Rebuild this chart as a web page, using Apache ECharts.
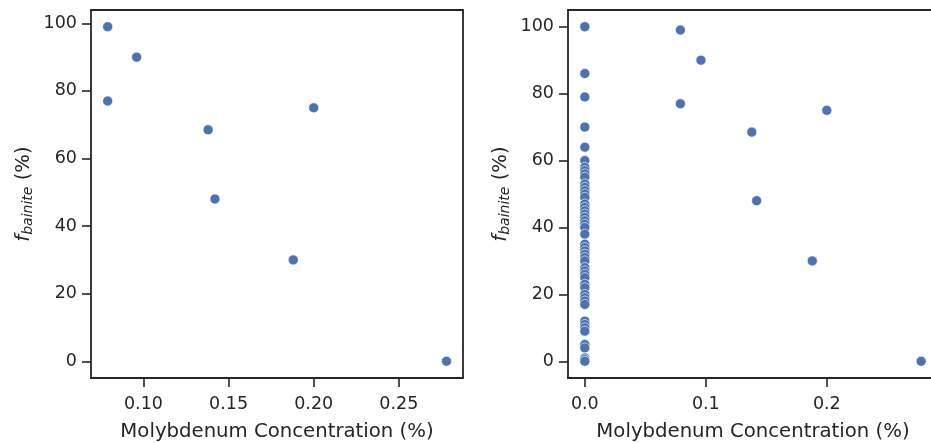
<!DOCTYPE html>
<html>
<head>
<meta charset="utf-8">
<script src="https://cdn.jsdelivr.net/npm/echarts@6/dist/echarts.min.js"></script>
<style>
  html, body { margin: 0; padding: 0; background: #fff; }
  #myChart { width: 931px; height: 443px; }
</style>
</head>
<body>
<div id="myChart"></div>
<script>
// samples that contain molybdenum
var moConc = [0.079, 0.096, 0.079, 0.138, 0.142, 0.200, 0.188, 0.278];
var fBainite = [99, 90, 77, 68.5, 48, 75, 30, 0];
// samples without molybdenum (Mo = 0)
var fBainiteNoMo = [100, 100, 86, 79, 70, 64, 60, 58, 57, 56, 55, 53, 52, 51, 50, 49,
  47, 46, 45, 44, 43, 42, 41, 40, 38, 35, 34, 33, 32, 31, 30, 28, 27, 26, 25, 23,
  22, 20, 19, 18, 17, 12, 11, 10, 9, 5, 4, 1, 0.5, 0];

var leftXTicks = [0.10, 0.15, 0.20, 0.25];
var rightXTicks = [0.0, 0.1, 0.2];
var yTicks = [0, 20, 40, 60, 80, 100];

var xTitle = "Molybdenum Concentration (%)";

var textColor = "#262626";
var dotColor = "#4c72b0";
var fontFamily = "DejaVu Sans";
var frameLine = { color: textColor, width: 1.8 };

var withMo = moConc.map(function (x, i) { return [x, fBainite[i]]; });
var allPts = fBainiteNoMo.map(function (y) { return [0, y]; }).concat(withMo);

function xAxis(idx, min, max, ticks, digits) {
  return {
    type: "value", gridIndex: idx, min: min, max: max, position: "bottom",
    name: xTitle, nameLocation: "middle", nameGap: 44,
    nameTextStyle: { color: textColor, fontSize: 19.7, fontFamily: fontFamily },
    axisLine: { show: true, onZero: false, lineStyle: frameLine },
    axisTick: { show: true, inside: false, length: 9, customValues: ticks, lineStyle: { color: textColor, width: 1.6 } },
    axisLabel: {
      customValues: ticks, margin: 17, color: textColor, fontSize: 17.5, fontFamily: fontFamily,
      formatter: function (v) { return v.toFixed(digits); }
    },
    splitLine: { show: false }
  };
}

function yAxis(idx, min, max) {
  return {
    type: "value", gridIndex: idx, min: min, max: max, position: "left",
    name: "{f|f}{s|bainite}{n| (%)}", nameLocation: "middle", nameGap: 56,
    nameTextStyle: {
      rich: {
        f: { fontSize: 19.7, fontStyle: "italic", fontFamily: fontFamily, color: textColor },
        s: { fontSize: 14, fontStyle: "italic", fontFamily: fontFamily, color: textColor, verticalAlign: "bottom", padding: [8, 0, 0, 0] },
        n: { fontSize: 19.7, fontFamily: fontFamily, color: textColor }
      }
    },
    axisLine: { show: true, onZero: false, lineStyle: frameLine },
    axisTick: { show: true, inside: false, length: 9, customValues: yTicks, lineStyle: { color: textColor, width: 1.6 } },
    axisLabel: { customValues: yTicks, margin: 14, color: textColor, fontSize: 17.5, fontFamily: fontFamily },
    splitLine: { show: false }
  };
}

// top / right frame lines: only the axis line is drawn
function frameAxis(idx, pos, min, max) {
  return {
    type: "value", gridIndex: idx, position: pos, min: min, max: max,
    axisLine: { show: true, onZero: false, lineStyle: frameLine },
    axisTick: { show: false }, axisLabel: { show: false }, splitLine: { show: false }
  };
}

var chartDom = document.getElementById("myChart");
var myChart = echarts.init(chartDom);
var option;

option = {
  animation: false,
  backgroundColor: "#ffffff",
  grid: [
    { left: 91, top: 10, width: 372, height: 368, outerBoundsMode: "none", containLabel: false },
    { left: 568, top: 10, width: 370, height: 368, outerBoundsMode: "none", containLabel: false }
  ],
  xAxis: [
    xAxis(0, 0.0692, 0.2877, leftXTicks, 2),
    xAxis(1, -0.0139, 0.2919, rightXTicks, 1),
    frameAxis(0, "top", 0.0692, 0.2877),
    frameAxis(1, "top", -0.0139, 0.2919)
  ],
  yAxis: [
    yAxis(0, -4.95, 103.95),
    yAxis(1, -5, 105),
    frameAxis(0, "right", -4.95, 103.95)
  ],
  series: [
    {
      type: "scatter", xAxisIndex: 0, yAxisIndex: 0, data: withMo, symbolSize: 10,
      itemStyle: { color: dotColor, borderColor: "#fff", borderWidth: 0.6, opacity: 1 }
    },
    {
      type: "scatter", xAxisIndex: 1, yAxisIndex: 1, data: allPts, symbolSize: 10,
      itemStyle: { color: dotColor, borderColor: "#fff", borderWidth: 0.6, opacity: 1 }
    }
  ]
};

option && myChart.setOption(option);
</script>
</body>
</html>
